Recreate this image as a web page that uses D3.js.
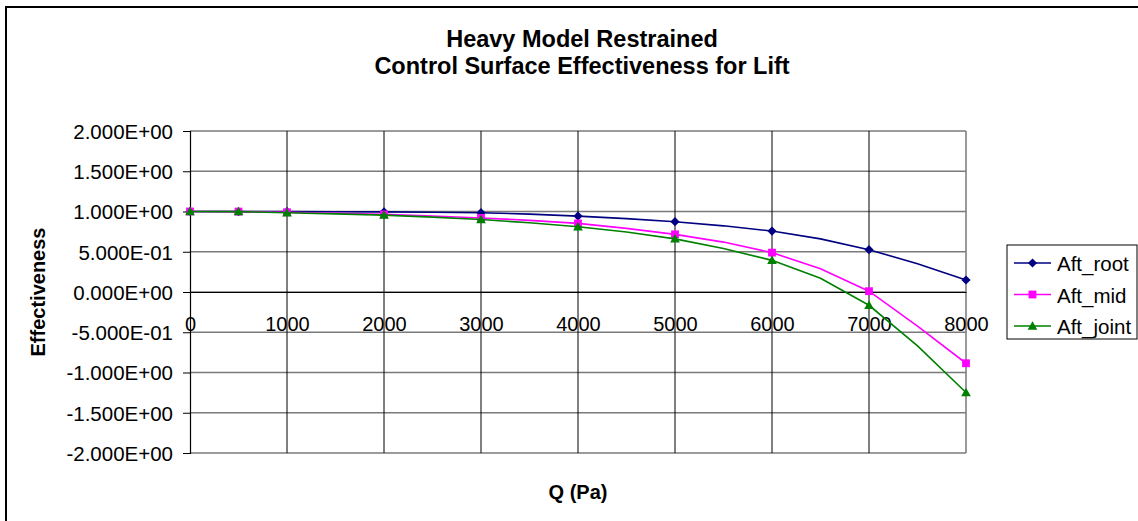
<!DOCTYPE html>
<html>
<head>
<meta charset="utf-8">
<script src="https://cdn.jsdelivr.net/npm/d3@7"></script>
<style>
  body { margin: 0; background: #fff; }
  text { font-family: "Liberation Sans", Arial, sans-serif; }
</style>
</head>
<body>
<div id="chart"></div>
<script>
// data
var qValues = [0, 500, 1000, 1500, 2000, 2500, 3000, 3500, 4000, 4500, 5000, 5500, 6000, 6500, 7000, 7500, 8000];
var aftRoot = [1.000, 0.999, 0.998, 0.997, 0.995, 0.991, 0.985, 0.968, 0.943, 0.912, 0.873, 0.822, 0.757, 0.660, 0.526, 0.350, 0.149];
var aftMid = [1.000, 0.999, 0.990, 0.978, 0.964, 0.945, 0.920, 0.890, 0.852, 0.790, 0.716, 0.620, 0.489, 0.290, 0.010, -0.425, -0.885];
var aftJoint = [1.000, 0.999, 0.985, 0.970, 0.955, 0.930, 0.900, 0.860, 0.810, 0.745, 0.660, 0.540, 0.393, 0.170, -0.165, -0.670, -1.248];
var markerQ = [0, 500, 1000, 2000, 3000, 4000, 5000, 6000, 7000, 8000];
var seriesNames = ["Aft_root", "Aft_mid", "Aft_joint"];
var seriesColors = ["#000080", "#ff00ff", "#008000"];
var xTicks = [0, 1000, 2000, 3000, 4000, 5000, 6000, 7000, 8000];
var yTicks = [2, 1.5, 1, 0.5, 0, -0.5, -1, -1.5, -2];

var width = 1138, height = 521;
// plot area edges (note: "top" is reserved on window)
var plotLeft = 190, plotRight = 966, plotTop = 131, plotBottom = 453;

var svg = d3.select("#chart").append("svg")
    .attr("width", width)
    .attr("height", height);

// outer chart border (cropped on right/bottom)
svg.append("rect")
    .attr("x", 6).attr("y", 7)
    .attr("width", 1200).attr("height", 600)
    .attr("fill", "none")
    .attr("stroke", "#000")
    .attr("stroke-width", 2);

var x = d3.scaleLinear().domain([0, 8000]).range([plotLeft, plotRight]);
var y = d3.scaleLinear().domain([-2, 2]).range([plotBottom, plotTop]);

// horizontal gridlines
svg.append("g").selectAll("line")
    .data(yTicks)
    .enter().append("line")
    .attr("x1", plotLeft).attr("x2", plotRight)
    .attr("y1", function (d) { return y(d); })
    .attr("y2", function (d) { return y(d); })
    .attr("stroke", "#7a7a7a")
    .attr("stroke-width", 1.6);

// vertical gridlines
svg.append("g").selectAll("line")
    .data(xTicks.slice(1, -1))
    .enter().append("line")
    .attr("x1", function (d) { return x(d); })
    .attr("x2", function (d) { return x(d); })
    .attr("y1", plotTop).attr("y2", plotBottom)
    .attr("stroke", "#000")
    .attr("stroke-width", 1);

// plot area right edge
svg.append("line")
    .attr("x1", plotRight).attr("x2", plotRight)
    .attr("y1", plotTop).attr("y2", plotBottom)
    .attr("stroke", "#808080")
    .attr("stroke-width", 1.6);

// excel style scientific labels, plain hyphen for minus
var locale = d3.formatLocale({decimal: ".", thousands: ",", grouping: [3], currency: ["", ""], minus: "-"});
var sci = locale.format(".3e");

// y axis
var yAxis = d3.axisLeft(y)
    .tickValues(yTicks)
    .tickSize(7)
    .tickPadding(10)
    .tickFormat(function (d) {
        return sci(d).replace("e", "E").replace(/E([+-])(\d)$/, "E$10$2");
    });
var yg = svg.append("g")
    .attr("transform", "translate(" + plotLeft + ",0)")
    .call(yAxis);
yg.select(".domain").attr("stroke", "#000").attr("stroke-width", 1.2);
yg.selectAll(".tick line").attr("stroke", "#000");
yg.selectAll(".tick text")
    .attr("font-size", "20.5px")
    .attr("fill", "#000")
    .attr("dy", "0.36em");

// x axis at y = 0
var xAxis = d3.axisBottom(x)
    .tickValues(xTicks)
    .tickSize(0)
    .tickPadding(8)
    .tickFormat(d3.format("d"));
var xg = svg.append("g")
    .attr("transform", "translate(0," + y(0) + ")")
    .call(xAxis);
xg.select(".domain").attr("stroke", "#000").attr("stroke-width", 1.2);
xg.selectAll(".tick text")
    .attr("font-size", "20px")
    .attr("fill", "#000")
    .attr("y", 39)
    .attr("dy", 0);

// series
var allSeries = [aftRoot, aftMid, aftJoint];
var line = d3.line()
    .x(function (d) { return x(d[0]); })
    .y(function (d) { return y(d[1]); });

function markerPath(i, s) {
    if (i === 0) return "M0," + (-s) + "L" + s + ",0L0," + s + "L" + (-s) + ",0Z";
    if (i === 1) return "M" + (-s * 0.85) + "," + (-s * 0.85) + "h" + (s * 1.7) + "v" + (s * 1.7) + "h" + (-s * 1.7) + "Z";
    return "M0," + (-s * 1.05) + "L" + (s * 1.05) + "," + (s * 0.8) + "L" + (-s * 1.05) + "," + (s * 0.8) + "Z";
}

allSeries.forEach(function (vals, i) {
    var pts = qValues.map(function (q, j) { return [q, vals[j]]; });
    svg.append("path")
        .datum(pts)
        .attr("d", line)
        .attr("fill", "none")
        .attr("stroke", seriesColors[i])
        .attr("stroke-width", 1.6);
    svg.append("g").selectAll("path")
        .data(pts.filter(function (p) { return markerQ.indexOf(p[0]) >= 0; }))
        .enter().append("path")
        .attr("transform", function (d) { return "translate(" + x(d[0]) + "," + y(d[1]) + ")"; })
        .attr("d", markerPath(i, 4.6))
        .attr("fill", seriesColors[i]);
});

// title
svg.append("text")
    .attr("x", 582).attr("y", 47)
    .attr("text-anchor", "middle")
    .attr("font-size", "23.5px")
    .attr("font-weight", "bold")
    .text("Heavy Model Restrained");
svg.append("text")
    .attr("x", 582).attr("y", 74)
    .attr("text-anchor", "middle")
    .attr("font-size", "23.5px")
    .attr("font-weight", "bold")
    .text("Control Surface Effectiveness for Lift");

// axis titles
svg.append("text")
    .attr("transform", "translate(45,292) rotate(-90)")
    .attr("text-anchor", "middle")
    .attr("font-size", "20px")
    .attr("font-weight", "bold")
    .text("Effectiveness");
svg.append("text")
    .attr("x", 578).attr("y", 499)
    .attr("text-anchor", "middle")
    .attr("font-size", "20px")
    .attr("font-weight", "bold")
    .text("Q (Pa)");

// legend
var lx = 1007, ly = 245;
svg.append("rect")
    .attr("x", lx).attr("y", ly)
    .attr("width", 130).attr("height", 94)
    .attr("fill", "#fff")
    .attr("stroke", "#000")
    .attr("stroke-width", 1);
seriesNames.forEach(function (name, i) {
    var yy = ly + 18 + i * 31.5;
    svg.append("line")
        .attr("x1", lx + 7).attr("x2", lx + 44)
        .attr("y1", yy).attr("y2", yy)
        .attr("stroke", seriesColors[i])
        .attr("stroke-width", 1.6);
    svg.append("path")
        .attr("transform", "translate(" + (lx + 25.5) + "," + yy + ")")
        .attr("d", markerPath(i, 4.6))
        .attr("fill", seriesColors[i]);
    svg.append("text")
        .attr("x", lx + 50).attr("y", yy + 8)
        .attr("font-size", "20.5px")
        .text(name);
});
</script>
</body>
</html>
